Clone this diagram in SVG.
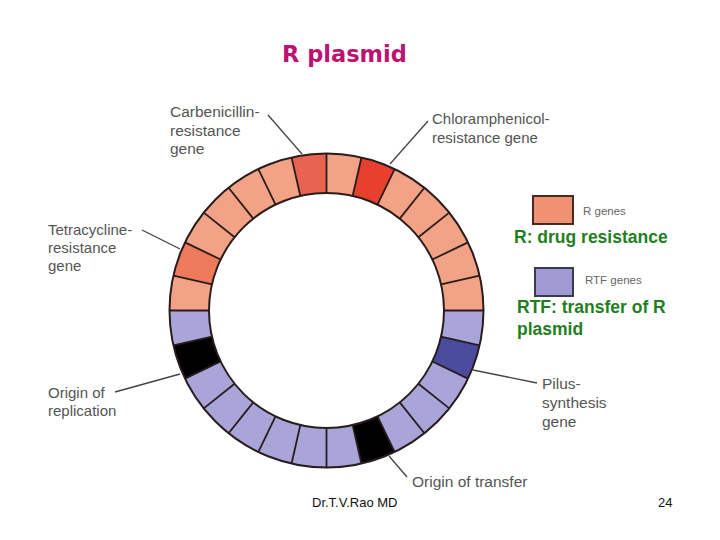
<svg xmlns="http://www.w3.org/2000/svg" width="720" height="540" viewBox="0 0 720 540">
<style>
.lbl{font-family:"Liberation Sans",Arial,sans-serif;font-size:15.5px;fill:#555}
.sm{font-family:"Liberation Sans",Arial,sans-serif;font-size:11.5px;fill:#666}
.grn{font-family:"Liberation Sans",Arial,sans-serif;font-size:17.5px;font-weight:bold;fill:#1f7f1f}
.ft{font-family:"Liberation Sans",Arial,sans-serif;font-size:13px;fill:#111}
.seg{fill:none;stroke-width:39.5}
.lead{stroke:#444;stroke-width:1.3;fill:none}
.rad{stroke:#2a1c1c;stroke-width:1.8}
</style>
<rect width="720" height="540" fill="#fff"/>
<text x="282" y="62" font-family="'DejaVu Sans',sans-serif" font-size="22.5" font-weight="bold" fill="#be1272">R plasmid</text>

<g id="plasmid">
  <circle class="seg" cx="326.5" cy="310.5" r="137.25" pathLength="28" stroke="#a9a5d9" stroke-dasharray="14 14"/>
  <circle class="seg" cx="326.5" cy="310.5" r="137.25" pathLength="28" stroke="#f2a285" stroke-dasharray="14 14" stroke-dashoffset="-14"/>
  <circle class="seg" cx="326.5" cy="310.5" r="137.25" pathLength="28" stroke="#4b4b9e" stroke-dasharray="1 27" stroke-dashoffset="-1"/>
  <circle class="seg" cx="326.5" cy="310.5" r="137.25" pathLength="28" stroke="#000" stroke-dasharray="1 27" stroke-dashoffset="-5"/>
  <circle class="seg" cx="326.5" cy="310.5" r="137.25" pathLength="28" stroke="#000" stroke-dasharray="1 27" stroke-dashoffset="-12"/>
  <circle class="seg" cx="326.5" cy="310.5" r="137.25" pathLength="28" stroke="#ee7a5c" stroke-dasharray="1 27" stroke-dashoffset="-15"/>
  <circle class="seg" cx="326.5" cy="310.5" r="137.25" pathLength="28" stroke="#e86450" stroke-dasharray="1 27" stroke-dashoffset="-20"/>
  <circle class="seg" cx="326.5" cy="310.5" r="137.25" pathLength="28" stroke="#e8402e" stroke-dasharray="1 27" stroke-dashoffset="-22"/>
  <defs><line id="rl" class="rad" x1="444" y1="310.5" x2="483.5" y2="310.5"/></defs>
  <use href="#rl" transform="rotate(0 326.5 310.5)"/>
  <use href="#rl" transform="rotate(12.857 326.5 310.5)"/>
  <use href="#rl" transform="rotate(25.714 326.5 310.5)"/>
  <use href="#rl" transform="rotate(38.571 326.5 310.5)"/>
  <use href="#rl" transform="rotate(51.429 326.5 310.5)"/>
  <use href="#rl" transform="rotate(64.286 326.5 310.5)"/>
  <use href="#rl" transform="rotate(77.143 326.5 310.5)"/>
  <use href="#rl" transform="rotate(90 326.5 310.5)"/>
  <use href="#rl" transform="rotate(102.857 326.5 310.5)"/>
  <use href="#rl" transform="rotate(115.714 326.5 310.5)"/>
  <use href="#rl" transform="rotate(128.571 326.5 310.5)"/>
  <use href="#rl" transform="rotate(141.429 326.5 310.5)"/>
  <use href="#rl" transform="rotate(154.286 326.5 310.5)"/>
  <use href="#rl" transform="rotate(167.143 326.5 310.5)"/>
  <use href="#rl" transform="rotate(180 326.5 310.5)"/>
  <use href="#rl" transform="rotate(192.857 326.5 310.5)"/>
  <use href="#rl" transform="rotate(205.714 326.5 310.5)"/>
  <use href="#rl" transform="rotate(218.571 326.5 310.5)"/>
  <use href="#rl" transform="rotate(231.429 326.5 310.5)"/>
  <use href="#rl" transform="rotate(244.286 326.5 310.5)"/>
  <use href="#rl" transform="rotate(257.143 326.5 310.5)"/>
  <use href="#rl" transform="rotate(270 326.5 310.5)"/>
  <use href="#rl" transform="rotate(282.857 326.5 310.5)"/>
  <use href="#rl" transform="rotate(295.714 326.5 310.5)"/>
  <use href="#rl" transform="rotate(308.571 326.5 310.5)"/>
  <use href="#rl" transform="rotate(321.429 326.5 310.5)"/>
  <use href="#rl" transform="rotate(334.286 326.5 310.5)"/>
  <use href="#rl" transform="rotate(347.143 326.5 310.5)"/>
  <circle cx="326.5" cy="310.5" r="157" fill="none" stroke="#2a1c1c" stroke-width="2"/>
  <circle cx="326.5" cy="310.5" r="117.5" fill="none" stroke="#2a1c1c" stroke-width="2"/>
</g>

<g id="connectors">
  <line class="lead" x1="268" y1="115" x2="302" y2="154"/>
  <line class="lead" x1="428" y1="121" x2="390" y2="164"/>
  <line class="lead" x1="142" y1="230" x2="180" y2="249"/>
  <line class="lead" x1="115" y1="392" x2="180" y2="374"/>
  <line class="lead" x1="473" y1="370" x2="537" y2="383"/>
  <line class="lead" x1="389" y1="456" x2="407" y2="477"/>
</g>

<g id="label-carbenicillin">
  <text class="lbl" x="170" y="117" font-size="15.8">Carbenicillin-</text>
  <text class="lbl" x="170" y="136" font-size="15.8">resistance</text>
  <text class="lbl" x="170" y="154" font-size="15.8">gene</text>
</g>
<g id="label-chloramphenicol">
  <text class="lbl" x="432" y="124" style="font-size:15px">Chloramphenicol-</text>
  <text class="lbl" x="432" y="143" style="font-size:15px">resistance gene</text>
</g>
<g id="label-tetracycline">
  <text class="lbl" x="48" y="235" style="font-size:15px">Tetracycline-</text>
  <text class="lbl" x="48" y="253" style="font-size:15px">resistance</text>
  <text class="lbl" x="48" y="271" style="font-size:15px">gene</text>
</g>
<g id="label-origin-replication">
  <text class="lbl" x="48" y="398" style="font-size:15px">Origin of</text>
  <text class="lbl" x="48" y="416" style="font-size:15px">replication</text>
</g>
<g id="label-pilus">
  <text class="lbl" x="542" y="389">Pilus-</text>
  <text class="lbl" x="542" y="408">synthesis</text>
  <text class="lbl" x="542" y="427">gene</text>
</g>
<g id="label-origin-transfer">
  <text class="lbl" x="412" y="487">Origin of transfer</text>
</g>

<g id="legend-r">
  <rect x="533" y="196" width="40" height="28" fill="#ee9272" stroke="#4a2a20" stroke-width="2"/>
  <text class="sm" x="583" y="215">R genes</text>
  <text class="grn" x="514" y="243">R: drug resistance</text>
</g>
<g id="legend-rtf">
  <rect x="535" y="268" width="38" height="28" fill="#a09ad2" stroke="#3a3a50" stroke-width="2"/>
  <text class="sm" x="585" y="284">RTF genes</text>
  <text class="grn" x="517" y="313">RTF: transfer of R</text>
  <text class="grn" x="517" y="335">plasmid</text>
</g>

<g id="footer">
  <text class="ft" x="312" y="507">Dr.T.V.Rao MD</text>
  <text class="ft" x="658" y="507">24</text>
</g>
</svg>
